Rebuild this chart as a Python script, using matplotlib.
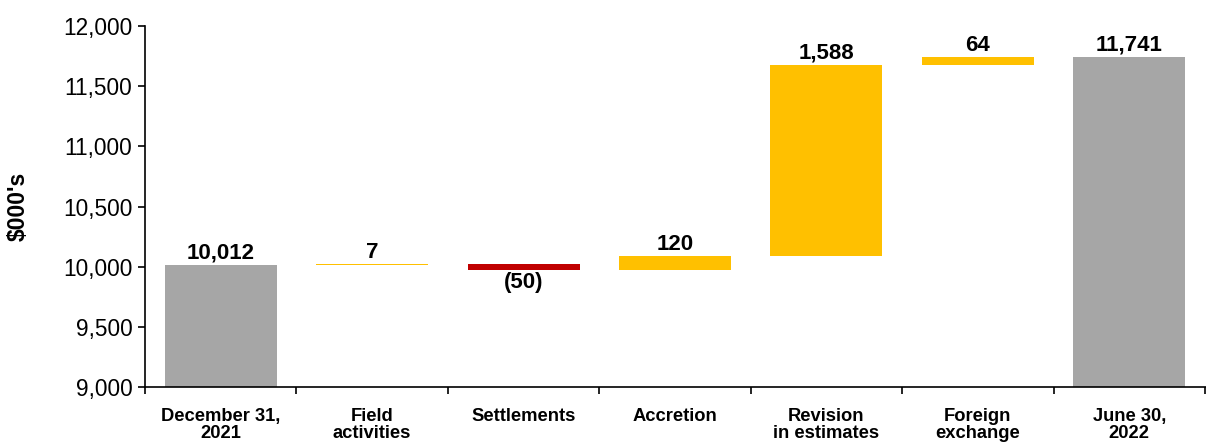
import matplotlib
matplotlib.use("Agg")
import matplotlib.pyplot as plt
import numpy as np

plt.rcParams['font.family'] = ['Liberation Sans', 'DejaVu Sans']

categories = ["December 31,\n2021", "Field\nactivities", "Settlements", "Accretion",
              "Revision\nin estimates", "Foreign\nexchange", "June 30,\n2022"]
start_total = 10012
changes = [7, -50, 120, 1588, 64]
end_total = 11741
labels = ["10,012", "7", "(50)", "120", "1,588", "64", "11,741"]

gray = "#A6A6A6"
yellow = "#FFC000"
red = "#C00000"

fig = plt.figure(figsize=(12.06, 4.45), dpi=100)
ax = fig.add_axes([0.1202, 0.1303, 0.889, 0.8113])

x = np.arange(len(categories))
w = 0.74

# totals
ax.bar(x[0], start_total - 9000, bottom=9000, width=w, color=gray)
ax.bar(x[-1], end_total - 9000, bottom=9000, width=w, color=gray)

# running changes
level = start_total
bases = []
for i, c in enumerate(changes):
    bot = level if c >= 0 else level + c
    ax.bar(x[i + 1], abs(c), bottom=bot, width=w,
           color=yellow if c >= 0 else red)
    bases.append((bot, bot + abs(c), c))
    level += c

fs_val = 16
ax.text(x[0], start_total + 12, labels[0], ha='center', va='bottom',
        fontsize=fs_val, fontweight='bold')
for i, (lo, hi, c) in enumerate(bases):
    if c >= 0:
        ax.text(x[i + 1], hi + 12, labels[i + 1], ha='center', va='bottom',
                fontsize=fs_val, fontweight='bold')
    else:
        ax.text(x[i + 1], lo - 15, labels[i + 1], ha='center', va='top',
                fontsize=fs_val, fontweight='bold')
ax.text(x[-1], end_total + 12, labels[-1], ha='center', va='bottom',
        fontsize=fs_val, fontweight='bold')

ax.set_xlim(-0.5, len(categories) - 0.5 + 0.08)
ax.set_ylim(9000, 12000)
ax.set_yticks(np.arange(9000, 12001, 500))
ax.set_yticklabels([f"{v:,}" for v in range(9000, 12001, 500)], fontsize=16.3)

ax.set_xticks(np.arange(-0.5, len(categories), 1.0))
ax.set_xticklabels([])
ax.set_xticks(x, minor=True)
ax.set_xticklabels(categories, minor=True, fontsize=13.2, fontweight='bold',
                   linespacing=1.05)
ax.tick_params(axis='x', which='minor', length=0, pad=15)
ax.tick_params(axis='x', which='major', length=5, width=1.2, direction='out')
ax.tick_params(axis='y', length=5, width=1.2, direction='out', pad=4)

for s in ['top', 'right']:
    ax.spines[s].set_visible(False)
for s in ['left', 'bottom']:
    ax.spines[s].set_linewidth(1.2)

ax.set_ylabel("$000's", fontsize=16.5, fontweight='bold', labelpad=24)

fig.savefig("out.png", dpi=100)
